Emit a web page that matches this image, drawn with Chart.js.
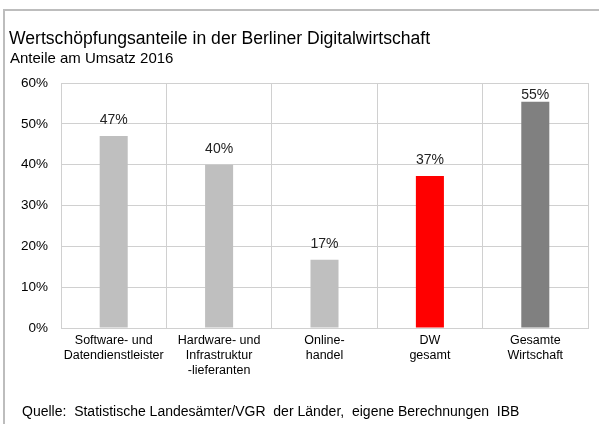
<!DOCTYPE html>
<html>
<head>
<meta charset="utf-8">
<script src="https://cdn.jsdelivr.net/npm/chart.js@4"></script>
<style>
  html, body { margin: 0; padding: 0; background: #fff; }
  #wrap { position: relative; width: 599px; height: 424px; }
</style>
</head>
<body>
<div id="wrap"><canvas id="myChart" width="599" height="424"></canvas></div>
<script>
"use strict";

const titleText = "Wertschöpfungsanteile in der Berliner Digitalwirtschaft";
const subtitleText = "Anteile am Umsatz 2016";
const sourceText = "Quelle:  Statistische Landesämter/VGR  der Länder,  eigene Berechnungen  IBB";

const categories = [
  ["Software- und", "Datendienstleister"],
  ["Hardware- und", "Infrastruktur", "-lieferanten"],
  ["Online-", "handel"],
  ["DW", "gesamt"],
  ["Gesamte", "Wirtschaft"],
];
const shares = [0.47, 0.40, 0.167, 0.372, 0.554];
const barColors = ["#bfbfbf", "#bfbfbf", "#bfbfbf", "#ff0000", "#808080"];
const yTicks = [0, 0.1, 0.2, 0.3, 0.4, 0.5, 0.6];

const FONT = "'Liberation Sans', Arial, sans-serif";

// title, subtitle, source line and the frame
const decorPlugin = {
  id: "decor",
  beforeDraw(chart) {
    const ctx = chart.ctx;
    ctx.save();
    ctx.fillStyle = "#fff";
    ctx.fillRect(0, 0, chart.width, chart.height);
    ctx.strokeStyle = "#bdbdbd";
    ctx.lineWidth = 2;
    ctx.beginPath();
    ctx.moveTo(4, chart.height);
    ctx.lineTo(4, 10);
    ctx.lineTo(chart.width, 10);
    ctx.stroke();

    ctx.fillStyle = "#000";
    ctx.textBaseline = "alphabetic";
    ctx.textAlign = "left";
    ctx.font = "17.6px " + FONT;
    ctx.fillText(titleText, 9, 44);
    ctx.font = "15px " + FONT;
    ctx.fillText(subtitleText, 10, 63);
    ctx.font = "14px " + FONT;
    ctx.fillText(sourceText, 22, 416);
    ctx.restore();
  },
};

// value labels above bars, kept inside the plot area
const valueLabels = {
  id: "valueLabels",
  afterDatasetsDraw(chart) {
    const ctx = chart.ctx;
    const meta = chart.getDatasetMeta(0);
    ctx.save();
    ctx.font = "14px " + FONT;
    ctx.fillStyle = "#222";
    ctx.textAlign = "center";
    ctx.textBaseline = "alphabetic";
    meta.data.forEach((bar, i) => {
      const txt = Math.round(shares[i] * 100) + "%";
      const y = Math.max(bar.y - 12, chart.chartArea.top + 16);
      ctx.fillText(txt, bar.x, y);
    });
    ctx.restore();
  },
};

new Chart("myChart", {
  type: "bar",
  data: {
    labels: categories,
    datasets: [
      {
        data: shares,
        backgroundColor: barColors,
        barPercentage: 0.266,
        categoryPercentage: 1,
      },
    ],
  },
  options: {
    responsive: false,
    animation: false,
    layout: { padding: { top: 83, right: 11, left: 0, bottom: 0 } },
    plugins: {
      legend: { display: false },
      tooltip: { enabled: false },
    },
    scales: {
      x: {
        grid: { color: "#d0d0d0", lineWidth: 1, offset: true, drawTicks: false },
        border: { color: "#d0d0d0" },
        ticks: {
          color: "#000",
          font: { family: FONT, size: 12.5 },
          padding: 5,
          maxRotation: 0,
          autoSkip: false,
        },
        afterFit(scale) { scale.height = 96; },
      },
      y: {
        min: 0,
        max: 0.6,
        afterBuildTicks(scale) { scale.ticks = yTicks.map((v) => ({ value: v })); },
        grid: { color: "#d0d0d0", lineWidth: 1, drawTicks: false },
        border: { color: "#d0d0d0" },
        ticks: {
          color: "#000",
          font: { family: FONT, size: 13.5 },
          padding: 13,
          callback: (v) => Math.round(v * 100) + "%",
        },
        afterFit(scale) { scale.width = 61; },
      },
    },
  },
  plugins: [decorPlugin, valueLabels],
});
</script>
</body>
</html>
